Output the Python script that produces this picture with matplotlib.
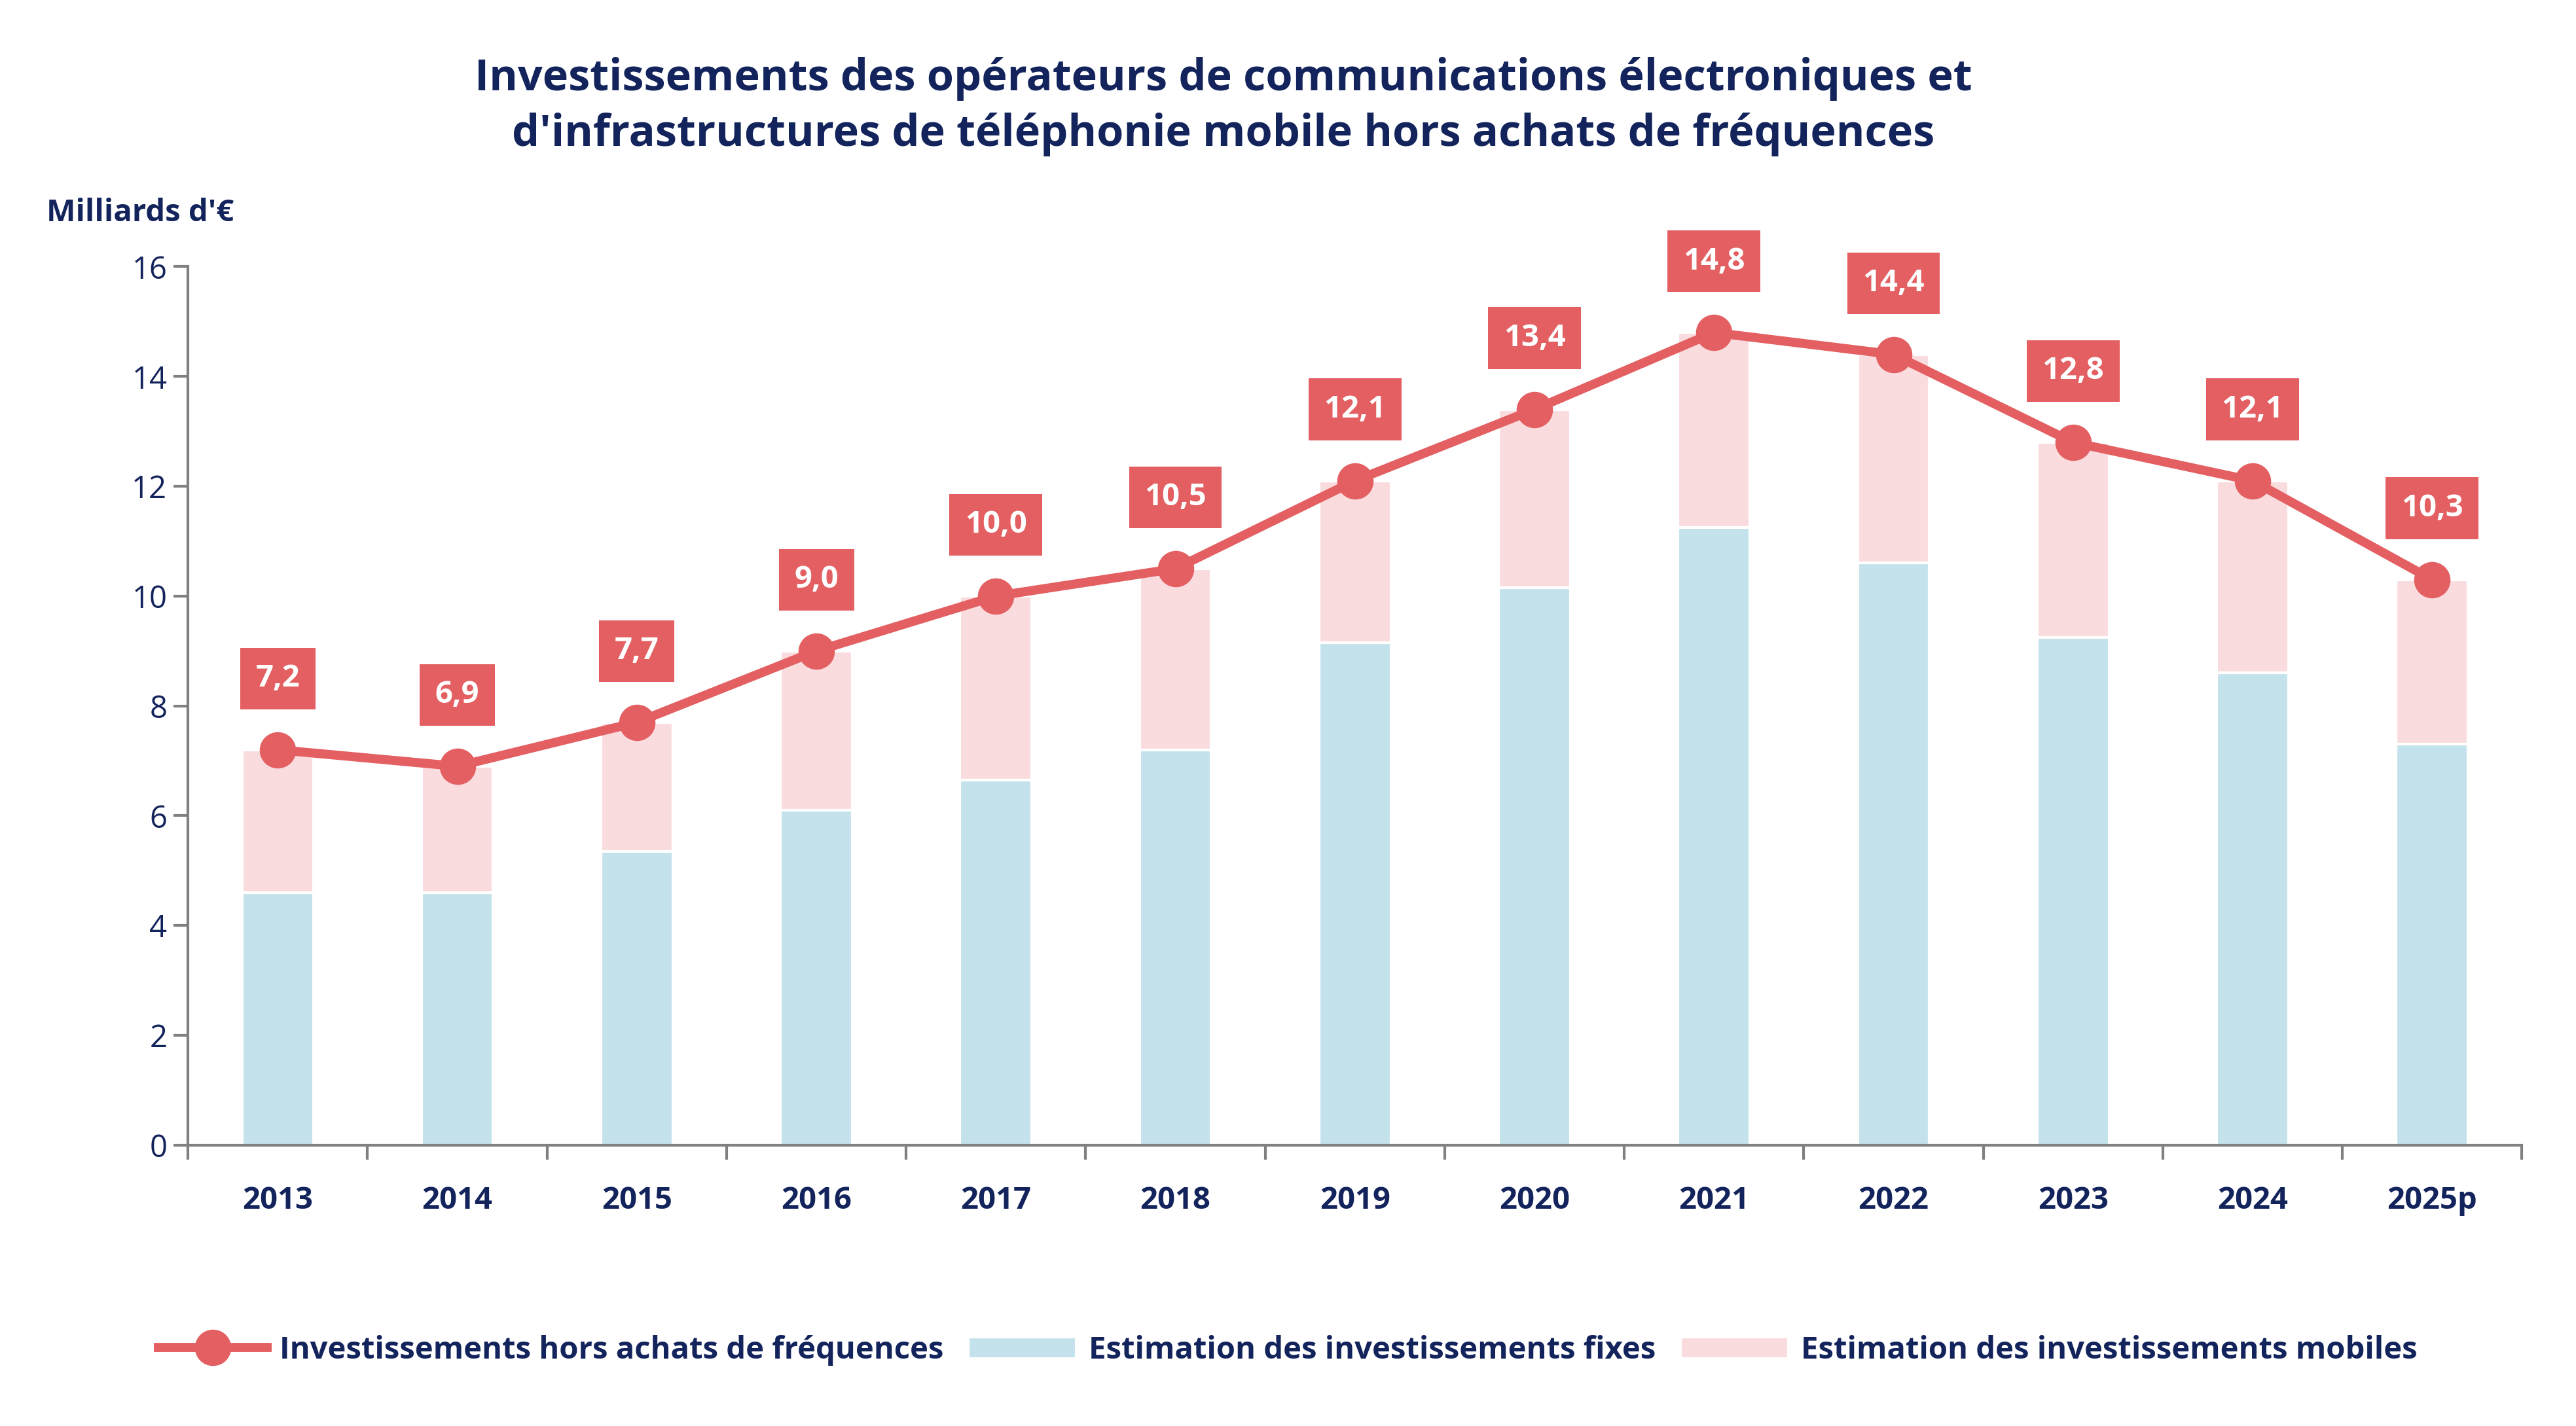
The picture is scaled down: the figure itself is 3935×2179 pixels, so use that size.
import matplotlib
matplotlib.use("Agg")
import matplotlib.pyplot as plt
import numpy as np

years = ["2013","2014","2015","2016","2017","2018","2019","2020","2021","2022","2023","2024","2025p"]
fixes = [4.6,4.6,5.35,6.1,6.65,7.2,9.15,10.15,11.25,10.6,9.25,8.6,7.3]
totals = [7.2,6.9,7.7,9.0,10.0,10.5,12.1,13.4,14.8,14.4,12.8,12.1,10.3]
mobiles = [t-f for t,f in zip(totals,fixes)]
labels = ["7,2","6,9","7,7","9,0","10,0","10,5","12,1","13,4","14,8","14,4","12,8","12,1","10,3"]

navy = "#13235B"
red = "#E35F62"
blue = "#C4E2EB"
pink = "#FADCDE"
plt.rcParams['font.family'] = ['Open Sans', 'DejaVu Sans']

fig = plt.figure(figsize=(19.675, 10.895), dpi=200)
ax = fig.add_axes([0.073, 0.197, 0.906, 0.616])
x = np.arange(len(years))
ax.bar(x, fixes, width=0.4, color=blue, edgecolor="white", linewidth=1.5, label="Estimation des investissements fixes", zorder=2)
ax.bar(x, mobiles, bottom=fixes, width=0.4, color=pink, edgecolor="white", linewidth=1.5, label="Estimation des investissements mobiles", zorder=2)
ax.plot(x, totals, color=red, lw=5, marker="o", ms=19, label="Investissements hors achats de fréquences", zorder=3)
for xi, t, l in zip(x, totals, labels):
    ax.text(xi, t+1.3, l, ha="center", va="center", color="white", fontsize=17, fontweight="bold",
            bbox=dict(boxstyle="square,pad=0.5", fc=red, ec="none"), zorder=4)

ax.set_xlim(-0.5, 12.5)
ax.set_ylim(0, 16)
ax.set_yticks(range(0, 17, 2))
ax.set_xticks(x)
ax.set_xticklabels(years, fontweight="bold")
ax.set_xticks(np.arange(-0.5, 13, 1), minor=True)
ax.tick_params(axis="x", which="major", length=0, pad=22, labelsize=17, labelcolor=navy)
ax.tick_params(axis="x", which="minor", length=8, color="#808080", width=1.5)
ax.tick_params(axis="y", labelsize=17, labelcolor=navy, length=8, color="#808080", width=1.5)
for s in ["top", "right"]:
    ax.spines[s].set_visible(False)
for s in ["left", "bottom"]:
    ax.spines[s].set_color("#808080")
    ax.spines[s].set_linewidth(1.5)

fig.text(0.018, 0.845, "Milliards d'€", fontsize=17, fontweight="bold", color=navy)
fig.text(0.475, 0.925, "Investissements des opérateurs de communications électroniques et\nd'infrastructures de téléphonie mobile hors achats de fréquences",
         ha="center", va="center", fontsize=24, fontweight="bold", color=navy, linespacing=1.35)
leg = fig.legend(loc="center", bbox_to_anchor=(0.5, 0.053), ncol=3, frameon=False, fontsize=17,
                 handlelength=3.5, columnspacing=0.8, handletextpad=0.4)
for t in leg.get_texts():
    t.set_color(navy); t.set_fontweight("bold")
fig.savefig("out.png", dpi=200)
